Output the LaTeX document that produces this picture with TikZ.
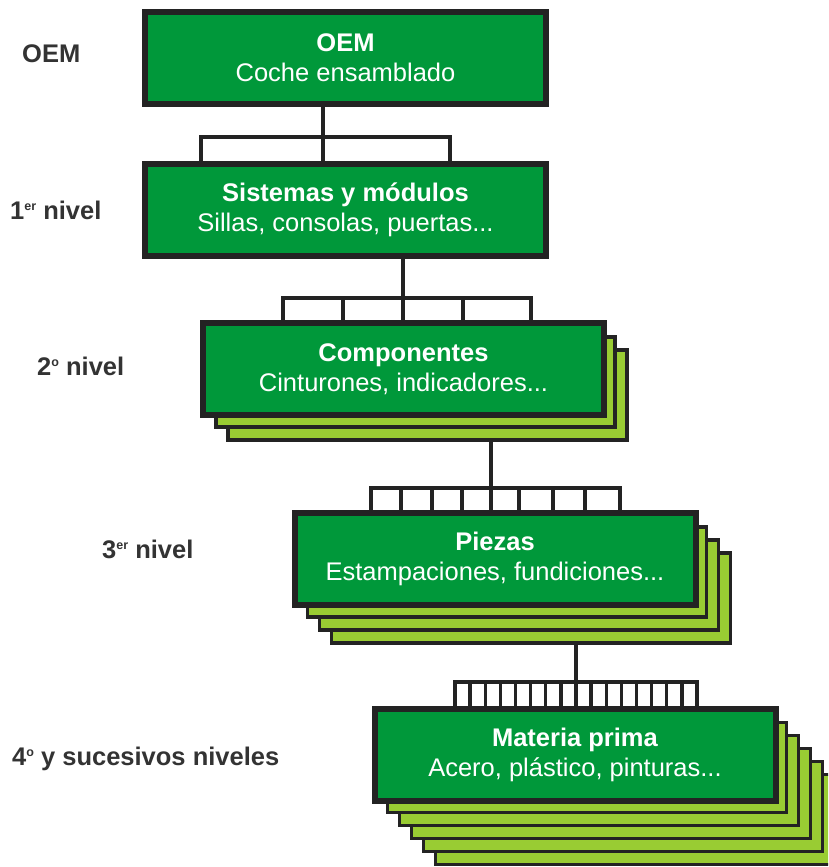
\documentclass[tikz,border=0pt]{standalone}
\usepackage{fontspec}
\setmainfont{Liberation Sans}
\definecolor{boxgreen}{RGB}{0,152,58}
\definecolor{layergreen}{RGB}{153,204,51}
\definecolor{ink}{RGB}{35,35,35}
\definecolor{labelgray}{RGB}{51,51,51}
% small raised ordinal ending
\newcommand\ordend[1]{\raisebox{8.5pt}{\fontsize{12.5}{12.5}\selectfont #1}}

\begin{document}
\begin{tikzpicture}[x=1pt,y=-1pt,
  card/.style={draw=ink, line width=4pt, fill=boxgreen, text=white,
    minimum width=399pt, minimum height=90pt, inner sep=0pt, align=center,
    font=\fontsize{25.5}{30}\selectfont},
  sheet/.style={draw=ink, line width=3.8pt, fill=layergreen,
    minimum width=399pt, minimum height=90pt, inner sep=0pt},
  tree/.style={draw=ink, line width=3.4pt, line cap=rect},
  level/.style={anchor=base west, text=labelgray, inner sep=0pt,
    font=\fontsize{25.5}{30}\selectfont\bfseries}]

% canvas
\path[fill=white, use as bounding box] (0,0) rectangle (828,867);
\clip (0,0) rectangle (828,867);

% level names on the left
\node[level] (l0) at (22,63) {OEM};
\node[level] (l1) at (10,219) {1\ordend{er} nivel};
\node[level] (l2) at (37,375) {2\ordend{o} nivel};
\node[level] (l3) at (102,558) {3\ordend{er} nivel};
\node[level] (l4) at (12,765) {4\ordend{o} y sucesivos niveles};

% stacked sheets behind the lower boxes (back to front)
\foreach \k in {2,1}
  \node[sheet] (b3s\k) at ({403.5+12*\k},{369+13*\k}) {};
\foreach \k in {3,2,1}
  \node[sheet] (b4s\k) at ({495+12*\k},{559+13*\k}) {};
\foreach \k in {5,4,3,2,1}
  \node[sheet] (b5s\k) at ({575+12*\k},{754.5+13*\k}) {};

% main boxes
\node[card] (b1) at (345.5,58) {\textbf{OEM}\\Coche ensamblado};
\node[card] (b2) at (345.5,210) {\textbf{Sistemas y módulos}\\Sillas, consolas, puertas...};
\node[card] (b3) at (403.5,369) {\textbf{Componentes}\\Cinturones, indicadores...};
\node[card] (b4) at (495,559) {\textbf{Piezas}\\Estampaciones, fundiciones...};
\node[card] (b5) at (575,754.5) {\textbf{Materia prima}\\Acero, plástico, pinturas...};

% OEM -> 1st level
\draw[tree] (b1.south -| 323,0) -- (323,137);
\draw[tree] (201,137) -- (450,137);
\foreach \x in {201,323,450}
  \draw[tree] (\x,137) -- (\x,137 |- b2.north);

% 1st -> 2nd level
\draw[tree] (b2.south -| 403,0) -- (403,298);
\draw[tree] (283,298) -- (531,298);
\foreach \x in {283,343,403,463,531}
  \draw[tree] (\x,298) -- (\x,298 |- b3.north);

% 2nd -> 3rd level
\draw[tree] (b3s2.south -| 491,0) -- (491,488);
\draw[tree] (371,488) -- (620,488);
\foreach \x in {371,401,432,462,491,519,553,585,620}
  \draw[tree] (\x,488) -- (\x,488 |- b4.north);

% 3rd -> 4th level
\draw[tree] (b4s3.south -| 576,0) -- (576,682);
\draw[tree] (455,682) -- (697,682);
\foreach \k in {0,...,16}
  \draw[tree] ({455+15.125*\k},682) -- ({455+15.125*\k},682 |- b5.north);

% redraw box outlines over the comb ends
\foreach \b in {b1,b2,b3,b4,b5}
  \draw[ink, line width=4pt] (\b.north west) rectangle (\b.south east);

\end{tikzpicture}
\end{document}
